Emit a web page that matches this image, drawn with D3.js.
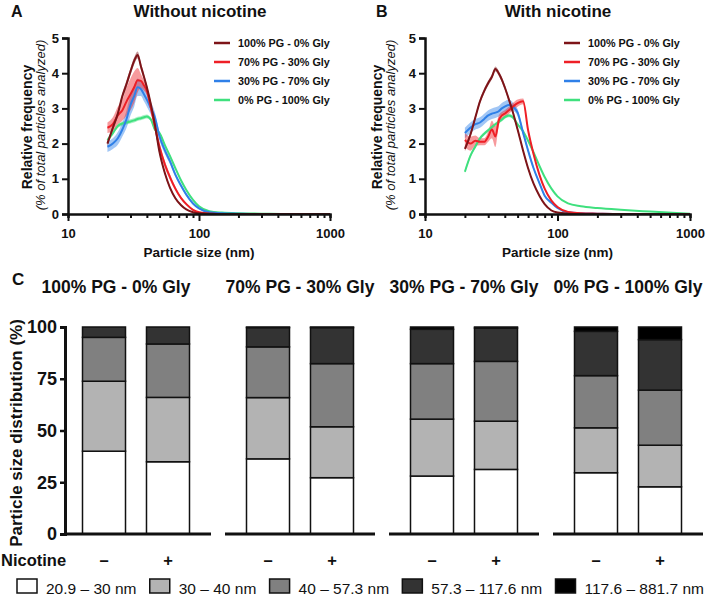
<!DOCTYPE html>
<html>
<head>
<meta charset="utf-8">
<script src="https://cdn.jsdelivr.net/npm/d3@7"></script>
<style>
  body { margin: 0; background: #fff; }
  text { font-family: "Liberation Sans", Arial, sans-serif; fill: #111; }
</style>
</head>
<body>
<script>
// ---- data: particle size distributions ----
const sizesNm = [20, 22, 24, 26, 28, 30, 32, 34, 36, 38, 40, 43, 46, 50, 55, 60, 66, 73, 80, 90, 100, 120, 150, 200, 300, 500, 1000];
const seriesNames = ['100% PG - 0% Gly', '70% PG - 30% Gly', '30% PG - 70% Gly', '0% PG - 100% Gly'];
const seriesColors = ['#7d1418', '#ee1f26', '#2f80e8', '#3fe07e'];

// panel A, without nicotine
const a_pg100 = [2.0, 2.45, 2.85, 3.35, 3.7, 4.05, 4.35, 4.52, 4.2, 3.9, 3.6, 3.1, 2.55, 1.75, 1.15, 0.75, 0.45, 0.25, 0.13, 0.05, 0.02, 0.01, 0, 0, 0, 0, 0];
const a_pg70 = [2.45, 2.55, 2.8, 2.95, 3.2, 3.4, 3.6, 3.8, 3.78, 3.65, 3.5, 3.0, 2.5, 1.9, 1.4, 1.05, 0.72, 0.45, 0.28, 0.12, 0.05, 0.01, 0, 0, 0, 0, 0];
const a_pg30 = [1.91, 2.0, 2.15, 2.4, 2.7, 3.1, 3.35, 3.6, 3.55, 3.4, 3.25, 3.0, 2.75, 2.2, 1.8, 1.5, 1.12, 0.8, 0.55, 0.3, 0.16, 0.05, 0.02, 0.01, 0, 0, 0];
const a_pg0 = [2.1, 2.3, 2.5, 2.57, 2.6, 2.63, 2.66, 2.7, 2.72, 2.75, 2.77, 2.68, 2.4, 2.3, 1.95, 1.65, 1.3, 0.95, 0.68, 0.4, 0.22, 0.08, 0.04, 0.02, 0.01, 0, 0];
const a_sem100 = [0.08, 0.08, 0.08, 0.08, 0.1, 0.1, 0.1, 0.1, 0.1, 0.08, 0.08, 0.08, 0.08, 0.06, 0.05, 0.04, 0.03, 0.02, 0.01, 0, 0, 0, 0, 0, 0, 0, 0];
const a_sem70 = [0.15, 0.2, 0.25, 0.3, 0.4, 0.45, 0.45, 0.35, 0.2, 0.15, 0.12, 0.12, 0.12, 0.12, 0.1, 0.08, 0.06, 0.04, 0.03, 0.02, 0.01, 0, 0, 0, 0, 0, 0];
const a_sem30 = [0.15, 0.15, 0.18, 0.2, 0.25, 0.3, 0.3, 0.25, 0.2, 0.2, 0.2, 0.18, 0.15, 0.12, 0.1, 0.08, 0.06, 0.05, 0.04, 0.03, 0.02, 0.01, 0, 0, 0, 0, 0];
const a_sem0 = [0.06, 0.06, 0.06, 0.06, 0.06, 0.06, 0.06, 0.06, 0.06, 0.06, 0.06, 0.05, 0.05, 0.04, 0.04, 0.04, 0.03, 0.03, 0.02, 0.02, 0.01, 0.01, 0, 0, 0, 0, 0];

// panel B, with nicotine
const b_pg100 = [1.85, 2.25, 2.75, 3.2, 3.5, 3.72, 3.9, 4.12, 4.0, 3.82, 3.6, 3.25, 2.9, 2.4, 1.8, 1.3, 0.86, 0.52, 0.28, 0.1, 0.04, 0.01, 0, 0, 0, 0, 0];
const b_pg70 = [2.1, 2.0, 2.08, 2.05, 2.05, 2.2, 2.4, 2.2, 2.65, 2.8, 2.85, 2.95, 3.05, 3.15, 3.2, 2.38, 1.7, 1.12, 0.72, 0.38, 0.2, 0.06, 0.02, 0.01, 0, 0, 0];
const b_pg30 = [2.3, 2.45, 2.55, 2.6, 2.7, 2.8, 2.85, 2.88, 2.92, 3.0, 3.05, 3.1, 3.05, 2.88, 2.31, 1.8, 1.3, 0.88, 0.52, 0.32, 0.17, 0.05, 0.02, 0.01, 0, 0, 0];
const b_pg0 = [1.2, 1.65, 1.92, 2.15, 2.28, 2.38, 2.47, 2.55, 2.62, 2.68, 2.75, 2.8, 2.75, 2.55, 2.35, 2.08, 1.75, 1.37, 1.05, 0.72, 0.5, 0.3, 0.22, 0.17, 0.12, 0.07, 0.01];
const b_sem100 = [0.07, 0.07, 0.07, 0.07, 0.07, 0.07, 0.07, 0.07, 0.07, 0.07, 0.07, 0.06, 0.06, 0.05, 0.05, 0.04, 0.03, 0.02, 0.01, 0, 0, 0, 0, 0, 0, 0, 0];
const b_sem70 = [0.2, 0.2, 0.15, 0.1, 0.1, 0.15, 0.25, 0.3, 0.15, 0.1, 0.1, 0.1, 0.1, 0.1, 0.08, 0.06, 0.05, 0.04, 0.03, 0.02, 0.01, 0, 0, 0, 0, 0, 0];
const b_sem30 = [0.15, 0.15, 0.15, 0.15, 0.15, 0.15, 0.15, 0.15, 0.15, 0.15, 0.15, 0.15, 0.12, 0.1, 0.08, 0.06, 0.05, 0.04, 0.03, 0.02, 0.01, 0, 0, 0, 0, 0, 0];
const b_sem0 = [0.05, 0.05, 0.05, 0.05, 0.05, 0.05, 0.05, 0.05, 0.05, 0.05, 0.05, 0.05, 0.05, 0.04, 0.04, 0.04, 0.03, 0.03, 0.02, 0.02, 0.01, 0.01, 0.01, 0, 0, 0, 0];

const xTickLabels = [10, 100, 1000];
const yTicksA = [0, 1, 2, 3, 4, 5];

// panel C, stacked distribution (%)
const groupNames = ['100% PG - 0% Gly', '70% PG - 30% Gly', '30% PG - 70% Gly', '0% PG - 100% Gly'];
const nicotineLabels = ['–', '+'];
const binLabels = ['20.9 – 30 nm', '30 – 40 nm', '40 – 57.3 nm', '57.3 – 117.6 nm', '117.6 – 881.7 nm'];
const binColors = ['#ffffff', '#b3b3b3', '#808080', '#333333', '#000000'];
const distWithout = [
  [40.0, 33.8, 21.2, 5.0, 0.0],
  [36.3, 29.6, 24.5, 9.3, 0.3],
  [28.0, 27.5, 26.8, 16.6, 1.1],
  [29.6, 21.7, 25.2, 21.4, 2.1]
];
const distWith = [
  [34.9, 31.1, 25.8, 8.2, 0.0],
  [27.2, 24.6, 30.5, 17.4, 0.3],
  [31.2, 23.3, 28.9, 16.1, 0.5],
  [22.8, 20.1, 26.6, 24.4, 6.1]
];
const yTicksC = [0, 25, 50, 75, 100];

const svg = d3.select('body').append('svg').attr('width', 709).attr('height', 599);
const FONT = '"Liberation Sans", Arial, sans-serif';

function drawDensity(p) {
  const x = d3.scaleLog().domain([10, 1000]).range([p.left, p.right]);
  const y = d3.scaleLinear().domain([0, 5]).range([214, 38]);
  const g = svg.append('g');

  svg.append('text').attr('x', p.letterX).attr('y', 17).attr('font-size', 16).attr('font-weight', 'bold').text(p.letter);
  svg.append('text').attr('x', p.titleX).attr('y', 17).attr('text-anchor', 'middle')
     .attr('font-size', 17).attr('font-weight', 'bold').text(p.title);

  const order = [3, 2, 1, 0];
  order.forEach(i => {
    const sem = p.sems[i];
    const area = d3.area()
      .x((d, j) => x(sizesNm[j]))
      .y0((d, j) => y(Math.max(0, d - sem[j])))
      .y1((d, j) => y(d + sem[j]))
      .curve(d3.curveMonotoneX);
    g.append('path').datum(p.series[i]).attr('d', area)
     .attr('fill', seriesColors[i]).attr('opacity', 0.45);
  });
  order.forEach(i => {
    const line = d3.line().x((d, j) => x(sizesNm[j])).y(d => y(d)).curve(d3.curveMonotoneX);
    g.append('path').datum(p.series[i]).attr('d', line)
     .attr('fill', 'none').attr('stroke', seriesColors[i]).attr('stroke-width', 2);
  });

  const xTicks = [];
  [10, 100].forEach(dec => { for (let k = 1; k < 10; k++) xTicks.push(dec * k); });
  xTicks.push(1000);
  const xAxis = d3.axisBottom(x).tickValues(xTicks).tickSizeOuter(0).tickSize(4).tickPadding(11)
    .tickFormat(d => xTickLabels.includes(d) ? d : '');
  const gx = svg.append('g').attr('transform', 'translate(0,214)').call(xAxis);
  gx.selectAll('.tick line').attr('y2', d => xTickLabels.includes(d) ? 7 : 4);

  const yAxis = d3.axisLeft(y).tickValues(yTicksA).tickFormat(d3.format('d'))
    .tickSizeOuter(0).tickSize(6).tickPadding(3);
  const gy = svg.append('g').attr('transform', `translate(${p.left},0)`).call(yAxis);

  [gx, gy].forEach(ax => {
    ax.select('.domain').attr('stroke', '#111').attr('stroke-width', 2.5);
    ax.selectAll('.tick line').attr('stroke', '#111').attr('stroke-width', 2);
    ax.selectAll('.tick text').attr('font-size', 13).attr('font-weight', 'bold')
      .attr('font-family', FONT).attr('fill', '#111');
  });

  svg.append('text').attr('x', (p.left + p.right) / 2).attr('y', 257).attr('text-anchor', 'middle')
     .attr('font-size', 13.5).attr('font-weight', 'bold').text('Particle size (nm)');
  svg.append('text').attr('transform', `translate(${p.labelX},127) rotate(-90)`).attr('text-anchor', 'middle')
     .attr('font-size', 14).attr('font-weight', 'bold').text('Relative frequency');
  svg.append('text').attr('transform', `translate(${p.labelX + 13},125) rotate(-90)`).attr('text-anchor', 'middle')
     .attr('font-size', 13).attr('font-style', 'italic').text('(% of total particles analyzed)');

  const lg = svg.append('g');
  seriesNames.forEach((name, i) => {
    const yy = 43 + i * 19;
    lg.append('line').attr('x1', p.legendX).attr('x2', p.legendX + 16).attr('y1', yy).attr('y2', yy)
      .attr('stroke', seriesColors[i]).attr('stroke-width', 2.5);
    lg.append('text').attr('x', p.legendX + 24).attr('y', yy).attr('dy', '0.35em')
      .attr('font-size', 10.8).attr('font-weight', 'bold').text(name);
  });
}

drawDensity({ left: 68, right: 330, letter: 'A', letterX: 11, title: 'Without nicotine', titleX: 200,
  labelX: 32, legendX: 214,
  series: [a_pg100, a_pg70, a_pg30, a_pg0], sems: [a_sem100, a_sem70, a_sem30, a_sem0] });
drawDensity({ left: 425, right: 690, letter: 'B', letterX: 376, title: 'With nicotine', titleX: 558,
  labelX: 382, legendX: 564,
  series: [b_pg100, b_pg70, b_pg30, b_pg0], sems: [b_sem100, b_sem70, b_sem30, b_sem0] });

// ---- panel C ----
const axisX = 65;
const groupX = d3.scaleBand().domain(groupNames).range([61, 703]).paddingInner(14 / 164).paddingOuter(0);
const nicX = d3.scaleBand().domain(nicotineLabels).range([0, groupX.bandwidth()]).paddingInner(0.328).paddingOuter(0.336);
const yC = d3.scaleLinear().domain([0, 100]).range([534, 327]);

const rows = [];
groupNames.forEach((gName, i) => {
  [distWithout, distWith].forEach((dist, j) => {
    const r = { group: gName, nic: nicotineLabels[j] };
    binLabels.forEach((b, k) => { r[b] = dist[i][k]; });
    rows.push(r);
  });
});
const stacked = d3.stack().keys(binLabels)(rows);

svg.append('text').attr('x', 12).attr('y', 285).attr('font-size', 17).attr('font-weight', 'bold').text('C');

groupNames.forEach((gName, i) => {
  svg.append('text').attr('x', groupX(gName) + groupX.bandwidth() / 2 - (i === 0 ? 20 : 0)).attr('y', 293)
     .attr('text-anchor', 'middle').attr('font-size', 17.5).attr('font-weight', 'bold').text(gName);
});

stacked.forEach((layer, k) => {
  svg.append('g').selectAll('rect').data(layer).enter().append('rect')
     .attr('x', d => groupX(d.data.group) + nicX(d.data.nic))
     .attr('y', d => yC(d[1]))
     .attr('width', nicX.bandwidth())
     .attr('height', d => yC(d[0]) - yC(d[1]))
     .attr('fill', binColors[k])
     .attr('stroke', '#111').attr('stroke-width', 1.5);
});

groupNames.forEach((gName, i) => {
  svg.append('line').attr('x1', Math.max(axisX, groupX(gName))).attr('x2', groupX(gName) + groupX.bandwidth())
     .attr('y1', 534).attr('y2', 534).attr('stroke', '#111').attr('stroke-width', 3);
});

const yAxisC = d3.axisLeft(yC).tickValues(yTicksC).tickSizeOuter(0).tickSize(5).tickPadding(3);
const gyc = svg.append('g').attr('transform', `translate(${axisX},0)`).call(yAxisC);
gyc.select('.domain').attr('stroke', '#111').attr('stroke-width', 3);
gyc.selectAll('.tick line').attr('stroke', '#111').attr('stroke-width', 2.5);
gyc.selectAll('.tick text').attr('font-size', 18).attr('font-weight', 'bold')
   .attr('font-family', FONT).attr('fill', '#111');

svg.append('text').attr('transform', 'translate(22,433) rotate(-90)').attr('text-anchor', 'middle')
   .attr('font-size', 17).attr('font-weight', 'bold').text('Particle size distribution (%)');

svg.append('text').attr('x', 1).attr('y', 566).attr('font-size', 16.5).attr('font-weight', 'bold').text('Nicotine');
groupNames.forEach(gName => {
  nicotineLabels.forEach(n => {
    svg.append('text').attr('x', groupX(gName) + nicX(n) + nicX.bandwidth() / 2).attr('y', 566)
       .attr('text-anchor', 'middle').attr('font-size', 16.5).attr('font-weight', 'bold').text(n);
  });
});

// legend for panel C
const leg = svg.append('g');
const items = binLabels.map((b, k) => {
  const it = leg.append('g');
  it.append('rect').attr('x', 0).attr('y', 579).attr('width', 20).attr('height', 14)
    .attr('fill', binColors[k]).attr('stroke', '#111').attr('stroke-width', 1.5);
  const t = it.append('text').attr('x', 29).attr('y', 594).attr('font-size', 15.5).text(b);
  return { g: it, w: 29 + t.node().getComputedTextLength() };
});
const totalW = d3.sum(items, d => d.w);
const gap = (704 - 17 - totalW) / (items.length - 1);
let cx = 17;
items.forEach(it => { it.g.attr('transform', `translate(${cx},0)`); cx += it.w + gap; });
</script>
</body>
</html>
